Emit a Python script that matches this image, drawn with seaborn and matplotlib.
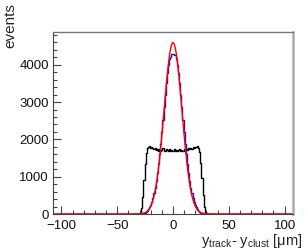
import numpy as np
import pandas as pd
import seaborn as sns
import matplotlib.pyplot as plt
from matplotlib.ticker import MultipleLocator

# bin centres (1 um bins) of the non-empty region
centers = np.arange(-35, 36)

# residuals, all clusters (black)
black_counts = [0, 0, 0, 0, 3, 10, 40, 150, 450, 900, 1330, 1630, 1770,
                1800, 1810, 1770, 1790, 1760, 1740, 1770, 1720, 1750, 1700, 1740,
                1690, 1720, 1760, 1700, 1680, 1730, 1710, 1690, 1740, 1700, 1720,
                1690, 1730, 1700, 1720, 1680, 1710, 1740, 1700, 1720, 1690, 1740,
                1710, 1750, 1720, 1770, 1740, 1780, 1750, 1790, 1770, 1800, 1790,
                1810, 1770, 1650, 1380, 960, 520, 190, 55, 15, 4, 0, 0, 0, 0]

# residuals, selected clusters (blue)
blue_counts = [0, 0, 0, 0, 0, 2, 4, 8, 15, 25, 40, 62, 90, 130, 180,
               245, 325, 425, 550, 700, 880, 1090, 1330, 1600, 1890, 2200,
               2530, 2860, 3190, 3500, 3780, 4000, 4150, 4220, 4300, 4280,
               4250, 4260, 4150, 4000, 3780, 3500, 3190, 2860, 2530, 2200, 1890,
               1600, 1330, 1090, 880, 700, 550, 425, 325, 245, 180, 130, 90,
               62, 40, 25, 15, 8, 4, 2, 0, 0, 0, 0, 0]

# gaussian fit curve (red)
fit_x = [-107, -40, -30, -28, -26, -24, -22, -20, -19, -18, -17, -16, -15, -14,
         -13, -12, -11, -10, -9, -8, -7, -6, -5, -4, -3, -2, -1, 0, 1, 2, 3,
         4, 5, 6, 7, 8, 9, 10, 11, 12, 13, 14, 15, 16, 17, 18, 19, 20, 22,
         24, 26, 28, 30, 40, 107]
fit_y = [0, 0, 4, 10, 23, 51, 105, 202, 274, 366, 481, 623, 793, 995,
         1229, 1494, 1787, 2106, 2443, 2790, 3137, 3472, 3784, 4060, 4288,
         4458, 4564, 4600, 4564, 4458, 4288, 4060, 3784, 3472, 3137, 2790,
         2443, 2106, 1787, 1494, 1229, 995, 793, 623, 481, 366, 274, 202,
         105, 51, 23, 10, 4, 0, 0]

xmin, xmax = -107.5, 107.5

sns.set_style('ticks')
plt.rcParams['font.family'] = ['Liberation Sans', 'DejaVu Sans']
plt.rcParams['mathtext.default'] = 'regular'

fig = plt.figure(figsize=(3.08, 2.49), dpi=100)
ax = fig.add_axes([53 / 308, 35 / 249, 240 / 308, 182 / 249])

df_black = pd.DataFrame({'x': centers, 'w': black_counts})
df_blue = pd.DataFrame({'x': centers, 'w': blue_counts})
sns.histplot(data=df_black, x='x', weights='w', binwidth=1.0,
             binrange=(xmin, xmax), element='step', fill=False,
             color='black', linewidth=1.0, ax=ax)
sns.histplot(data=df_blue, x='x', weights='w', binwidth=1.0,
             binrange=(xmin, xmax), element='step', fill=False,
             color='#1a1ab4', linewidth=1.0, ax=ax)
sns.lineplot(x=fit_x, y=fit_y, color='red', linewidth=1.0, ax=ax)

ax.set_xlim(xmin, xmax)
ax.set_ylim(0, 4880)
ax.set_xlabel('')
ax.set_ylabel('')

ax.xaxis.set_major_locator(MultipleLocator(50))
ax.xaxis.set_minor_locator(MultipleLocator(10))
ax.yaxis.set_major_locator(MultipleLocator(1000))
ax.yaxis.set_minor_locator(MultipleLocator(200))
ax.tick_params(which='both', direction='in', color='#444444', labelsize=9.5,
               labelcolor='#111111')
ax.tick_params(which='major', length=5.5, width=0.8)
ax.tick_params(which='minor', length=2.8, width=0.8)
ax.tick_params(axis='x', pad=4)
ax.tick_params(axis='y', pad=3)

for side in ['left', 'bottom']:
    ax.spines[side].set_color('#444444')
    ax.spines[side].set_linewidth(0.8)
ax.spines['top'].set_color('#777777')
ax.spines['top'].set_linewidth(1.0)
ax.spines['right'].set_color('#aaaaaa')
ax.spines['right'].set_linewidth(1.8)

fig.text(10.5 / 308, 1 - 3 / 249, 'events', rotation=90, ha='center',
         va='top', fontsize=11)
fig.text(303 / 308, 4 / 249, r'y$_{track}$- y$_{clust}$ [μm]', ha='right',
         va='baseline', fontsize=10.5)

fig.savefig('out.png', dpi=100)
